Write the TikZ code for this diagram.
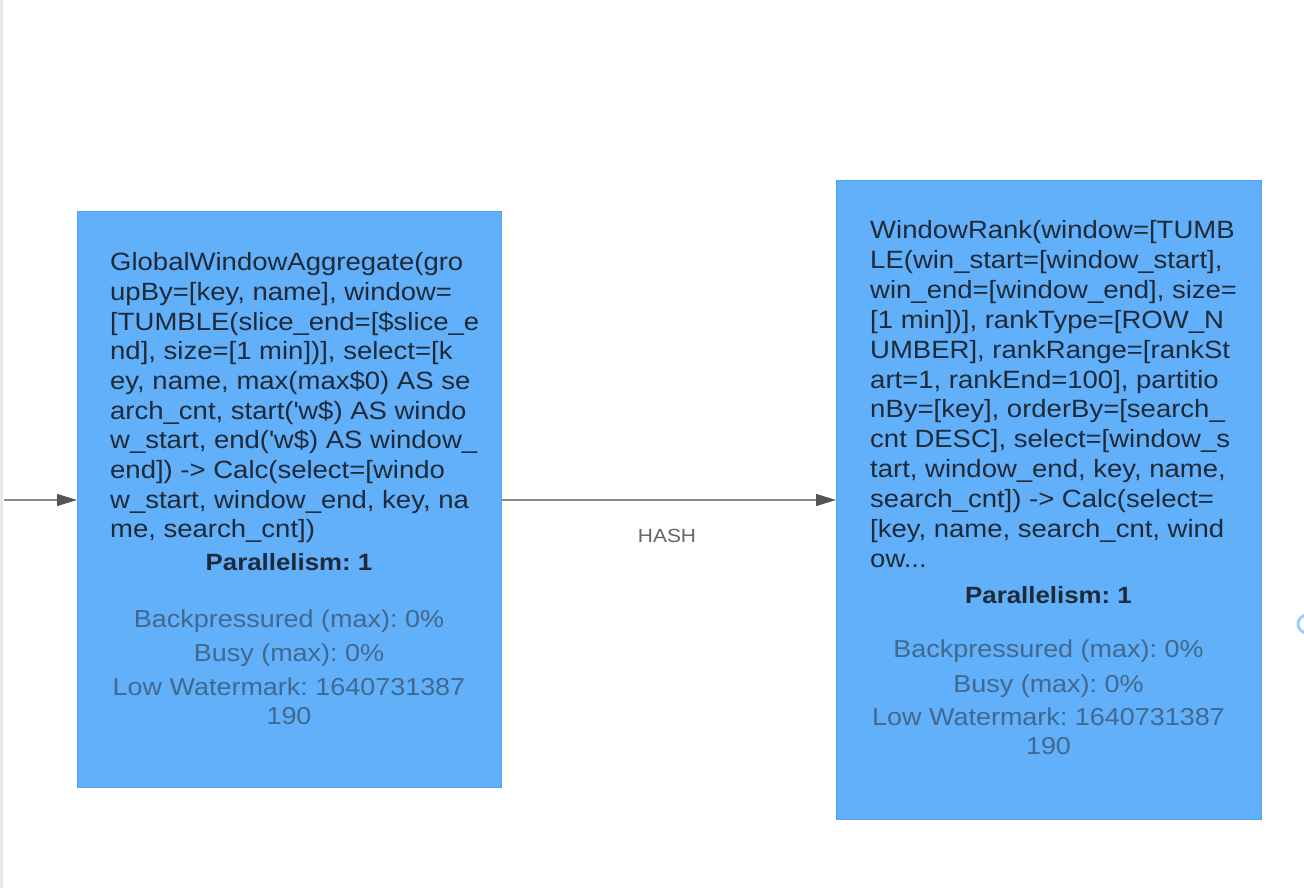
\documentclass[tikz,border=0pt]{standalone}
\usepackage{fontspec}
\setmainfont{Liberation Sans}[FakeStretch=1.1]
\usetikzlibrary{arrows.meta}
\frenchspacing
\definecolor{boxfill}{HTML}{62AFFA}
\definecolor{boxline}{HTML}{4DA3F7}
\definecolor{codetext}{HTML}{1E2A38}
\definecolor{stattext}{HTML}{41698F}
\definecolor{edgegrey}{HTML}{8A8A8A}
\definecolor{tipgrey}{HTML}{555555}
\definecolor{labelgrey}{HTML}{666666}
\definecolor{stripgrey}{HTML}{E9E9E9}
\definecolor{ringblue}{HTML}{9CCDF9}
\tikzset{
  opbox/.style={draw=boxline, fill=boxfill, line width=1.3pt, inner sep=0pt, rectangle},
  codeline/.style={inner sep=0pt, anchor=base west, text=codetext, font=\fontsize{25}{30}\selectfont\frenchspacing},
  parline/.style={inner sep=0pt, anchor=base, text=codetext, font=\fontsize{23.5}{28}\selectfont\bfseries\frenchspacing},
  statline/.style={inner sep=0pt, anchor=base, text=stattext, font=\fontsize{24.5}{29}\selectfont\frenchspacing},
  edge/.style={draw=edgegrey, line width=1.4pt, -{Triangle[length=20pt,width=12pt,color=tipgrey]}},
  edgelabel/.style={inner sep=0pt, anchor=base, text=labelgrey, font=\fontsize{19}{22}\selectfont},
}
\begin{document}
\begin{tikzpicture}[x=1pt,y=-1pt]
\useasboundingbox (0,0) rectangle (1304,888);
\clip (0,0) rectangle (1304,888);
\fill[white] (0,0) rectangle (1304,888);
\fill[stripgrey] (0,0) rectangle (3,888);

% operator boxes
\node[opbox, minimum width=424pt, minimum height=576pt, anchor=north west] (g) at (77,211) {};
\node[opbox, minimum width=425pt, minimum height=639pt, anchor=north west] (w) at (836,180) {};

% left box text
\foreach \t [count=\i] in {
  {GlobalWindowAggregate(gro},
  {upBy=[key, name], window=},
  {[TUMBLE(slice\_end=[\$slice\_e},
  {nd], size=[1 min])], select=[k},
  {ey, name, max(max\$0) AS se},
  {arch\_cnt, start(\textquotesingle w\$) AS windo},
  {w\_start, end(\textquotesingle w\$) AS window\_},
  {end]) -> Calc(select=[windo},
  {w\_start, window\_end, key, na},
  {me, search\_cnt])}}
  \node[codeline] (gl\i) at (110,{270.6+29.7*(\i-1)}) {\t};
\node[parline] (gpar) at (289,570) {Parallelism: 1};
\node[statline] (gs1) at (289,627) {Backpressured (max): 0\%};
\node[statline] (gs2) at (289,661) {Busy (max): 0\%};
\node[statline] (gs3) at (289,695.5) {Low Watermark: 1640731387};
\node[statline] (gs4) at (289,724.5) {190};

% right box text
\foreach \t [count=\i] in {
  {WindowRank(window=[TUMB},
  {LE(win\_start=[window\_start],},
  {win\_end=[window\_end], size=},
  {[1 min])], rankType=[ROW\_N},
  {UMBER], rankRange=[rankSt},
  {art=1, rankEnd=100], partitio},
  {nBy=[key], orderBy=[search\_},
  {cnt DESC], select=[window\_s},
  {tart, window\_end, key, name,},
  {search\_cnt]) -> Calc(select=},
  {[key, name, search\_cnt, wind},
  {ow.{}.{}.}}
  \node[codeline] (wl\i) at (870,{238.5+29.9*(\i-1)}) {\t};
\node[parline] (wpar) at (1048.5,603) {Parallelism: 1};
\node[statline] (ws1) at (1048.5,657.5) {Backpressured (max): 0\%};
\node[statline] (ws2) at (1048.5,692) {Busy (max): 0\%};
\node[statline] (ws3) at (1048.5,725.5) {Low Watermark: 1640731387};
\node[statline] (ws4) at (1048.5,754.5) {190};

% connectors
\coordinate (src) at (4,500);
\draw[edge] (src) -- (src -| g.west);
\draw[edge] (g.east |- src) -- (w.west |- src);
\node[edgelabel] (hash) at (667,542) {HASH};

% partial ring at the right edge
\node[circle, draw=ringblue, line width=3pt, minimum size=18pt, inner sep=0pt] (ring) at (1307,624) {};
\end{tikzpicture}
\end{document}
